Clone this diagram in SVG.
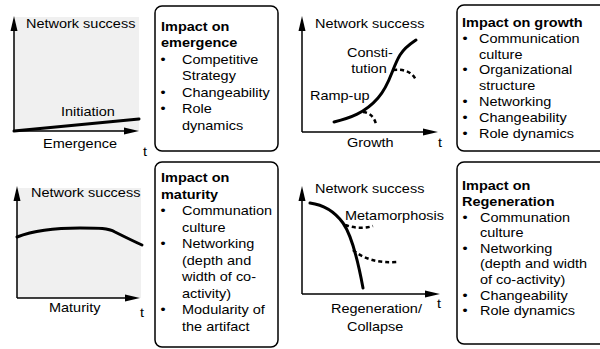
<svg xmlns="http://www.w3.org/2000/svg" width="600" height="349" viewBox="0 0 600 349">
<style>
.t{font-family:"Liberation Sans",Arial,sans-serif;font-size:12.6px;fill:#000}
.b{font-weight:bold}
.m{text-anchor:middle}
.box{fill:#fff;stroke:#000;stroke-width:1.5}
.ax{stroke:#000;stroke-width:1.5;fill:none}
.cv{stroke:#000;stroke-width:3;fill:none;stroke-linecap:round}
.ds{stroke:#000;stroke-width:2.5;fill:none;stroke-dasharray:4 3}
.bg{fill:#f0f0f0}
</style>
<rect width="600" height="349" fill="#fff"/>
<g id="chart-emergence">
<rect class="bg" x="14" y="17" width="125" height="114"/>
<line class="ax" x1="14" y1="131" x2="14" y2="30"/>
<polygon points="14,16 10.5,31 17.5,31"/>
<line class="ax" x1="14" y1="131" x2="125" y2="131"/>
<polygon points="139,131 124,127.5 124,134.5"/>
<path class="cv" d="M14,131 L139,119"/>
<g transform="scale(1.15 1)">
<text class="t" x="22.61" y="28">Network success</text>
<text class="t" x="53.04" y="116">Initiation</text>
<text class="t" x="37.39" y="148">Emergence</text>
<text class="t" x="124.35" y="156">t</text>
</g>
</g>
<g id="box-emergence">
<rect class="box" x="155" y="6" width="123" height="145" rx="7"/>
<g transform="scale(1.15 1)">
<text class="t b" x="140" y="31">Impact on</text>
<text class="t b" x="140" y="47.5">emergence</text>
<text class="t m" x="141.74" y="64">•</text>
<text class="t" x="158.26" y="64">Competitive</text>
<text class="t" x="158.26" y="80.5">Strategy</text>
<text class="t m" x="141.74" y="97">•</text>
<text class="t" x="158.26" y="97">Changeability</text>
<text class="t m" x="141.74" y="113.5">•</text>
<text class="t" x="158.26" y="113.5">Role</text>
<text class="t" x="158.26" y="130">dynamics</text>
</g>
</g>
<g id="chart-growth">
<line class="ax" x1="302" y1="132" x2="302" y2="30"/>
<polygon points="302,16 298.5,31 305.5,31"/>
<line class="ax" x1="302" y1="132" x2="424" y2="132"/>
<polygon points="438,132 423,128.5 423,135.5"/>
<path class="cv" d="M334,122 C350,118 365,113 378,98 C390,85 392,68 400,55 C405,47 410,44 416,40"/>
<path class="ds" d="M363,112 Q373,113 376,124"/>
<path class="ds" d="M393,70 Q410,68 416,80"/>
<g transform="scale(1.15 1)">
<text class="t" x="273.91" y="28">Network success</text>
<text class="t m" x="321.74" y="57">Consti-</text>
<text class="t m" x="320.87" y="73">tution</text>
<text class="t" x="269.57" y="100">Ramp-up</text>
<text class="t" x="301.74" y="147">Growth</text>
<text class="t" x="380.87" y="147">t</text>
</g>
</g>
<g id="box-growth">
<rect class="box" x="457" y="5" width="150" height="146" rx="7"/>
<g transform="scale(1.15 1)">
<text class="t b" x="401.74" y="27">Impact on growth</text>
<text class="t m" x="404.35" y="42.8">•</text>
<text class="t" x="416.52" y="42.8">Communication</text>
<text class="t" x="416.52" y="58.6">culture</text>
<text class="t m" x="404.35" y="74.4">•</text>
<text class="t" x="416.52" y="74.4">Organizational</text>
<text class="t" x="416.52" y="90.2">structure</text>
<text class="t m" x="404.35" y="106">•</text>
<text class="t" x="416.52" y="106">Networking</text>
<text class="t m" x="404.35" y="121.8">•</text>
<text class="t" x="416.52" y="121.8">Changeability</text>
<text class="t m" x="404.35" y="137.6">•</text>
<text class="t" x="416.52" y="137.6">Role dynamics</text>
</g>
</g>
<g id="chart-maturity">
<rect class="bg" x="17" y="188" width="124" height="110"/>
<line class="ax" x1="17" y1="298" x2="17" y2="200"/>
<polygon points="17,186 13.5,201 20.5,201"/>
<line class="ax" x1="17" y1="298" x2="126" y2="298"/>
<polygon points="140,298 125,294.5 125,301.5"/>
<path class="cv" d="M17,237 C35,230 55,228 80,228 C100,228 108,228 115,232 C125,237 133,241 142,245"/>
<g transform="scale(1.15 1)">
<text class="t" x="26.96" y="197">Network success</text>
<text class="t" x="42.61" y="312">Maturity</text>
<text class="t" x="121.74" y="317">t</text>
</g>
</g>
<g id="box-maturity">
<rect class="box" x="155" y="162" width="123" height="185" rx="7"/>
<g transform="scale(1.15 1)">
<text class="t b" x="140" y="182.5">Impact on</text>
<text class="t b" x="140" y="199">maturity</text>
<text class="t m" x="141.74" y="215.5">•</text>
<text class="t" x="158.26" y="215.5">Communation</text>
<text class="t" x="158.26" y="232">culture</text>
<text class="t m" x="141.74" y="248.5">•</text>
<text class="t" x="158.26" y="248.5">Networking</text>
<text class="t" x="158.26" y="265">(depth and</text>
<text class="t" x="158.26" y="281.5">width of co-</text>
<text class="t" x="158.26" y="298">activity)</text>
<text class="t m" x="141.74" y="314.5">•</text>
<text class="t" x="158.26" y="314.5">Modularity of</text>
<text class="t" x="158.26" y="331">the artifact</text>
</g>
</g>
<g id="chart-regeneration">
<line class="ax" x1="302" y1="294" x2="302" y2="200"/>
<polygon points="302,186 298.5,201 305.5,201"/>
<line class="ax" x1="302" y1="294" x2="426" y2="294"/>
<polygon points="440,294 425,290.5 425,297.5"/>
<path class="cv" d="M310,203 C325,205 335,212 343,223 C350,233 356,250 363,288"/>
<path class="ds" d="M345,225 Q360,230 373,226"/>
<path class="ds" d="M353,250 Q370,264 397,262"/>
<g transform="scale(1.15 1)">
<text class="t" x="273.91" y="193">Network success</text>
<text class="t" x="300" y="220">Metamorphosis</text>
<text class="t" x="287.83" y="313">Regeneration/</text>
<text class="t" x="301.74" y="331">Collapse</text>
<text class="t" x="380" y="308">t</text>
</g>
</g>
<g id="box-regeneration">
<rect class="box" x="457" y="162" width="150" height="182" rx="7"/>
<g transform="scale(1.15 1)">
<text class="t b" x="401.74" y="190">Impact on</text>
<text class="t b" x="401.74" y="206">Regeneration</text>
<text class="t m" x="404.35" y="222">•</text>
<text class="t" x="417.39" y="222">Communation</text>
<text class="t" x="417.39" y="237.5">culture</text>
<text class="t m" x="404.35" y="253">•</text>
<text class="t" x="417.39" y="253">Networking</text>
<text class="t" x="417.39" y="268.5">(depth and width</text>
<text class="t" x="417.39" y="284">of co-activity)</text>
<text class="t m" x="404.35" y="300">•</text>
<text class="t" x="417.39" y="300">Changeability</text>
<text class="t m" x="404.35" y="315.5">•</text>
<text class="t" x="417.39" y="315.5">Role dynamics</text>
</g>
</g>
</svg>
